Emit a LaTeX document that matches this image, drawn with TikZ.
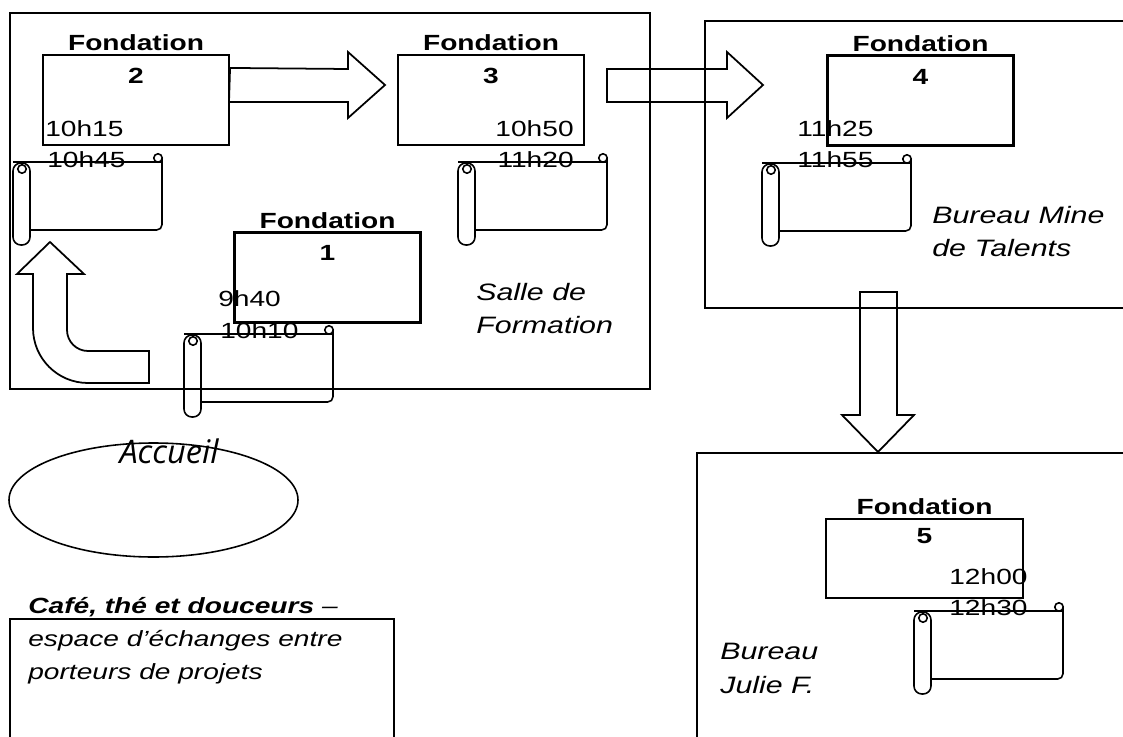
\documentclass[tikz,border=0pt]{standalone}
\usepackage{fontspec}
\setmainfont{Liberation Sans}[FakeStretch=1.28]
\newfontfamily\accueilfont{Open Sans}
\usetikzlibrary{calc,shapes.geometric}

\tikzset{
	ftitle/.style={font=\fontsize{12.5}{14}\selectfont\bfseries, inner sep=1.5pt},
	fbox/.style={draw, line width=1.2pt, minimum width=186*0.02cm, minimum height=90*0.02cm, inner sep=0pt, label={[ftitle]above:Fondation}},
	fnum/.style={font=\fontsize{12.5}{14}\selectfont\bfseries, inner sep=0pt},
	hour/.style={font=\fontsize{12.5}{14}\selectfont, inner sep=0pt},
	place/.style={font=\fontsize{13.5}{19}\selectfont\itshape, align=left, inner sep=0pt, anchor=north west},
	room/.style={line width=1.2pt},
	blockarrow/.style={line width=1pt, line join=miter},
	scroll/.pic={
		\draw[line width=0.9pt, rounded corners=4.5pt] (0,1) rectangle (17,83);
		\draw[line width=0.9pt] (9,7) circle[radius=2.4pt];
		\draw[line width=0.9pt] (0,0) -- (149,0);
		\draw[line width=0.9pt, rounded corners=3pt] (17,68) -- (149,68) -- (149,-4);
		\draw[line width=0.9pt] (145,-4) circle[radius=2.4pt];
	}
}

\begin{document}
\begin{tikzpicture}[x=0.02cm, y=-0.02cm]

	\useasboundingbox (0,0) rectangle (1123,737);

	%% rooms
	\draw[room] (10,13) rectangle (650,389);
	\draw[room] (1125,21) -- (705,21) -- (705,308) -- (1125,308);
	\draw[room] (1125,453) -- (697,453) -- (697,740);
	\draw[room] (10,740) -- (10,619) -- (394,619) -- (394,740);

	\node[place] (Salle) at (476,283) {Salle de\\Formation};
	\node[place] (Mine) at (932,206) {Bureau Mine\\de Talents};
	\node[place] (Julie) at (720,643) {Bureau\\Julie F.};

	%% foundations
	\node[fbox] (Fond1) at (327.5,277.5) {};
	\node[fbox] (Fond2) at (136,100) {};
	\node[fbox] (Fond3) at (491,100) {};
	\node[fbox] (Fond4) at (920.5,100.5) {};
	\node[fbox, minimum width=197*0.02cm, minimum height=79*0.02cm] (Fond5) at (924.5,558.5) {};

	\node[fnum] (Num1) at ($(Fond1.north)+(0,21)$) {1};
	\node[fnum] (Num2) at ($(Fond2.north)+(0,22)$) {2};
	\node[fnum] (Num3) at ($(Fond3.north)+(0,22)$) {3};
	\node[fnum] (Num4) at ($(Fond4.north)+(0,22)$) {4};
	\node[fnum] (Num5) at ($(Fond5.north)+(0,18)$) {5};

	\pic (Scroll1) at (184,334) {scroll};
	\pic (Scroll2) at (13,162) {scroll};
	\pic (Scroll3) at (458,162) {scroll};
	\pic (Scroll4) at (762,163) {scroll};
	\pic (Scroll5) at (914,611) {scroll};

	\node[hour, anchor=west] (Start1) at (218,299) {9h40};
	\node[hour, anchor=west] (End1) at (220,331) {10h10};
	\node[hour, anchor=west] (Start2) at (45,129) {10h15};
	\node[hour, anchor=west] (End2) at (47,160) {10h45};
	\node[hour, anchor=east] (Start3) at (574,129) {10h50};
	\node[hour, anchor=east] (End3) at (574,160) {11h20};
	\node[hour, anchor=west] (Start4) at (797,129) {11h25};
	\node[hour, anchor=west] (End4) at (797,160) {11h55};
	\node[hour, anchor=west] (Start5) at (949,577) {12h00};
	\node[hour, anchor=west] (End5) at (949,608) {12h30};

	%% welcome and coffee
	\node[draw, ellipse, line width=0.9pt, minimum width=289*0.02cm, minimum height=114*0.02cm, inner sep=0pt] (Accueil) at (153.5,500) {};
	\node[font=\accueilfont\itshape\fontsize{18.5}{20}\selectfont, inner sep=0pt] (AccueilText) at (169,451) {Accueil};

	\node[place, font=\fontsize{12.5}{18.7}\selectfont\itshape] (Cafe) at (28,597) {\textbf{Café, thé et douceurs} –\\espace d’échanges entre\\porteurs de projets};

	%% block arrows
	\draw[blockarrow] (50,242) -- (84,274) -- (67,274) -- (67,330) .. controls (67,341.6) and (76.4,351) .. (88,351) -- (149,351) -- (149,383) -- (88,383) .. controls (57.6,383) and (33,358.4) .. (33,328) -- (33,274) -- (17,274) -- cycle;
	\draw[blockarrow] (Fond2.north east) ++(0,14) -- (348,69) -- (348,52) -- (385,85) -- (348,118) -- (348,102) -- (229,102) -- cycle;
	\draw[blockarrow] (607,69) -- (727,69) -- (727,52) -- (763,85) -- (727,118) -- (727,102) -- (607,102) -- cycle;
	\draw[blockarrow] (860,292) -- (897,292) -- (897,415) -- (914,415) -- (878,452) -- (842,415) -- (860,415) -- cycle;

\end{tikzpicture}
\end{document}
